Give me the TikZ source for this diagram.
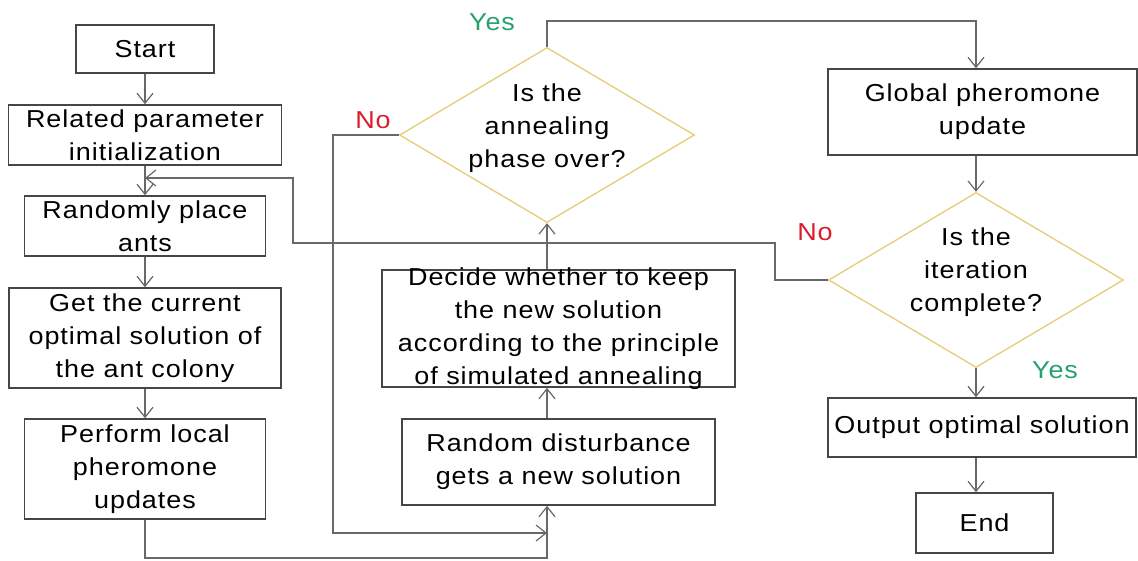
\documentclass[tikz,border=0pt]{standalone}
\usepackage{fontspec}
\setmainfont{Liberation Sans}[FakeStretch=1.1,LetterSpace=4]
\usetikzlibrary{arrows.meta,shapes.geometric,calc}
\definecolor{boxc}{RGB}{70,70,70}
\definecolor{linec}{RGB}{105,105,105}
\definecolor{diac}{RGB}{228,205,115}
\definecolor{noc}{RGB}{215,30,45}
\definecolor{yesc}{RGB}{40,160,110}
\begin{document}
\begin{tikzpicture}[x=1pt,y=-1pt,
  every node/.style={font=\fontsize{24.5}{33}\selectfont},
  stepbox/.style={draw=boxc,line width=1.6pt,inner sep=0pt,fill=white},
  dia/.style={draw=diac,line width=1.3pt,diamond,inner sep=0pt,fill=white},
  txt/.style={align=center,inner sep=0pt,text=black},
  conn/.style={draw=linec,line width=1.4pt},
  arr/.style={conn,-{Straight Barb[length=10pt,width=16pt,line width=1.2pt]}},
  nolab/.style={text=noc},
  yeslab/.style={text=yesc}]
\useasboundingbox (0,0) rectangle (1138,560);

% boxes
\node[stepbox,minimum width=138pt,minimum height=48pt] (start) at (145,49) {};
\node[txt] at (start) {Start};
\node[stepbox,minimum width=273pt,minimum height=60pt] (param) at (145,135) {};
\node[txt] at (param) {Related parameter\\initialization};
\node[stepbox,minimum width=241pt,minimum height=60pt] (place) at (145,226) {};
\node[txt] at (place) {Randomly place\\ants};
\node[stepbox,minimum width=272pt,minimum height=100pt] (getopt) at (145,338) {};
\node[txt] at (getopt) {Get the current\\optimal solution of\\the ant colony};
\node[stepbox,minimum width=241pt,minimum height=100pt] (local) at (145,469) {};
\node[txt] at (local) {Perform local\\pheromone\\updates};

\node[stepbox,minimum width=313pt,minimum height=86pt] (rand) at (558.5,462) {};
\node[txt] at (rand) {Random disturbance\\gets a new solution};
\node[stepbox,minimum width=353pt,minimum height=117pt] (decide) at (558.5,328.5) {};

\node[dia,minimum width=295pt,minimum height=175pt] (dia1) at (547,135) {};
\node[txt] at ($(dia1)+(0,-7)$) {Is the\\annealing\\phase over?};

\node[stepbox,minimum width=309pt,minimum height=86pt] (global) at (982.5,112) {};
\node[txt] at (global) {Global pheromone\\update};
\node[dia,minimum width=295pt,minimum height=175pt] (dia2) at (976,280) {};
\node[txt] at ($(dia2)+(0,-8)$) {Is the\\iteration\\complete?};
\node[stepbox,minimum width=308pt,minimum height=59pt] (output) at (982,427.5) {};
\node[txt] at (output) {Output optimal solution};
\node[stepbox,minimum width=137pt,minimum height=60pt] (end) at (984.5,523) {};
\node[txt] at (end) {End};

% labels
\node[nolab] (no1) at (373,120) {No};
\node[yeslab] (yes1) at (492,22) {Yes};
\node[nolab] (no2) at (815,232) {No};
\node[yeslab] (yes2) at (1055,370) {Yes};

% helper coordinates
\coordinate (j1) at (547,533);
\coordinate (j2) at (145,178);

% connectors
\draw[arr] (start.south) -- (param.north);
\draw[arr] (param.south) -- (place.north);
\draw[arr] (place.south) -- (getopt.north);
\draw[arr] (getopt.south) -- (local.north);
\draw[arr] (local.south) -- (145,558) -- (547,558) -- (rand.south -| dia1.south);
\draw[arr] (dia1.west) -- (333,135) -- (333,533) -- (j1);
\draw[arr] (rand.north -| dia1.south) -- (decide.south -| dia1.south);
\draw[arr] (decide.north -| dia1.south) -- (dia1.south);
\draw[arr] (dia1.north) -- (547,21) -- (976,21) -- (global.north -| dia2.north);
\draw[arr] (global.south -| dia2.north) -- (dia2.north);
\draw[arr] (dia2.west) -- (775,280) -- (775,243) -- (293,243) -- (293,178) -- (j2);
\draw[arr] (dia2.south) -- (output.north -| dia2.south);
\draw[arr] (output.south -| dia2.south) -- (end.north -| dia2.south);

% decide text on top (overflows box)
\node[txt] at (decide) {Decide whether to keep\\the new solution\\according to the principle\\of simulated annealing};
\end{tikzpicture}
\end{document}
